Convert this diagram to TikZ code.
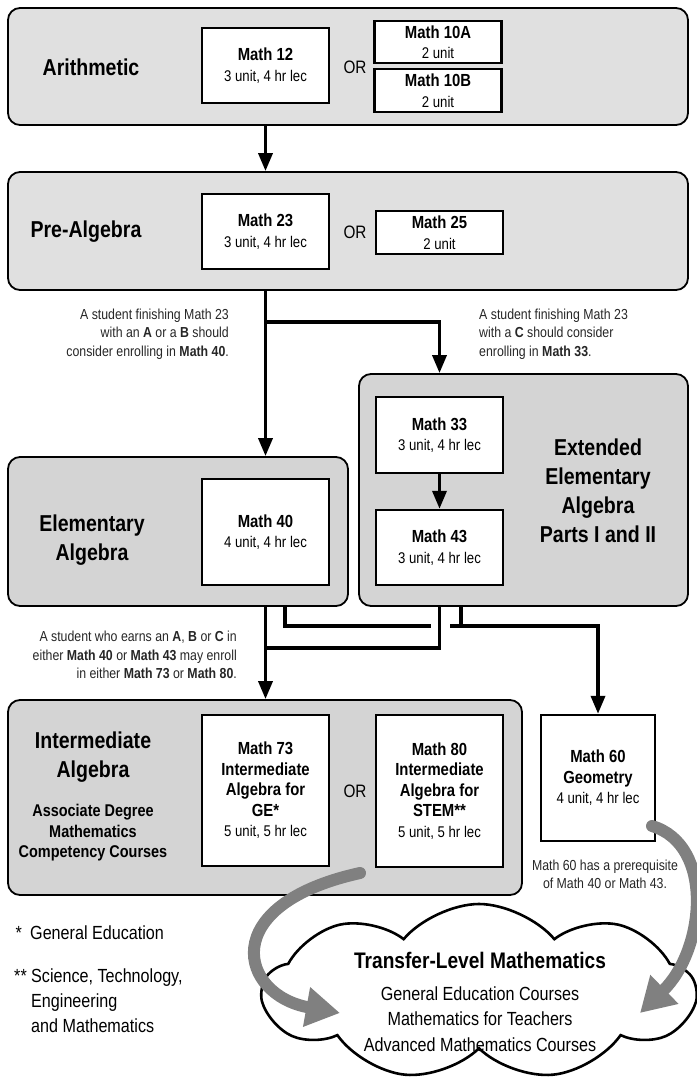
\documentclass[tikz,border=0pt]{standalone}
\usepackage{fontspec}
\setmainfont{Liberation Sans}[FakeStretch=0.85]
\usetikzlibrary{positioning, arrows.meta, shapes.symbols}
\definecolor{paneltop}{gray}{0.88}
\definecolor{panellow}{gray}{0.83}
\definecolor{bigarrow}{gray}{0.5}
\tikzset{
panel/.style={draw, line width=1.8pt, rounded corners=12pt, inner sep=0pt}, % gray band of one level
course/.style={draw, line width=2.4pt, fill=white, inner sep=0pt, align=center, font=\fontsize{15.5}{20.5}\selectfont}, % white course box
level/.style={align=center, inner sep=0pt, font=\bfseries\fontsize{23}{29}\selectfont}, % name of the level
sublevel/.style={align=center, inner sep=0pt, font=\bfseries\fontsize{17}{20.5}\selectfont},
ortext/.style={inner sep=0pt, font=\fontsize{18}{20}\selectfont},
note/.style={inner sep=0pt, text=black!85, font=\fontsize{14.5}{18.3}\selectfont}, % small advice texts
fnote/.style={inner sep=0pt, align=left, font=\fontsize{19}{25}\selectfont},
link/.style={line width=3.5pt},
flow/.style={link, -{Triangle[width=14pt,length=18pt]}}, % black arrow between courses
bigflow/.style={draw=bigarrow, line width=12pt, line cap=round, -{Triangle[width=38pt,length=34pt]}},
}
\newcommand{\ctitle}[1]{{\bfseries\fontsize{17.5}{20.5}\selectfont #1}}

\begin{document}
\begin{tikzpicture}[x=1pt, y=-1pt]
\useasboundingbox (0,0) rectangle (696,1084);

% levels
\node[panel, fill=paneltop, minimum width=680pt, minimum height=117pt] (arith) at (348,66.5) {};
\node[panel, fill=paneltop, minimum width=680pt, minimum height=118pt] (prealg) at (348,231) {};
\node[panel, fill=panellow, minimum width=340pt, minimum height=149pt] (elem) at (178,531.5) {};
\node[panel, fill=panellow, minimum width=329pt, minimum height=232pt] (ext) at (523.5,490) {};
\node[panel, fill=panellow, minimum width=514pt, minimum height=195pt] (inter) at (265,797.5) {};

\node[level] (arithlabel) at (91,67) {Arithmetic};
\node[level] (prealglabel) at (86,232) {Pre-Algebra};
\node[level] (elemlabel) at (92,540) {Elementary\\Algebra};
\node[level] (extlabel) at (598,491) {Extended\\Elementary\\Algebra\\Parts I and II};
\node[level] (interlabel) at (93,757) {Intermediate\\Algebra};
\node[sublevel] (interdesc) at (93,833) {Associate Degree\\Mathematics\\Competency Courses};

% courses
\node[course, minimum width=127pt, minimum height=75pt] (math12) at (265.5,65.5) {\ctitle{Math 12}\\3 unit, 4 hr lec};
\node[ortext] (or1) at (355,67) {OR};
\node[course, minimum width=127pt, minimum height=42pt] (math10a) at (438,42) {\ctitle{Math 10A}\\2 unit};
\node[course, minimum width=127pt, minimum height=43pt] (math10b) at (438,90.5) {\ctitle{Math 10B}\\2 unit};

\node[course, minimum width=127pt, minimum height=75pt] (math23) at (265.5,231.5) {\ctitle{Math 23}\\3 unit, 4 hr lec};
\node[ortext] (or2) at (355,232) {OR};
\node[course, minimum width=127pt, minimum height=43pt] (math25) at (439.5,232.5) {\ctitle{Math 25}\\2 unit};

\node[course, minimum width=127pt, minimum height=106pt] (math40) at (265.5,532) {\ctitle{Math 40}\\4 unit, 4 hr lec};
\node[course, minimum width=127pt, minimum height=76pt] (math33) at (439.5,435) {\ctitle{Math 33}\\3 unit, 4 hr lec};
\node[course, minimum width=127pt, minimum height=75pt] (math43) at (439.5,547.5) {\ctitle{Math 43}\\3 unit, 4 hr lec};

\node[course, minimum width=127pt, minimum height=151pt] (math73) at (265.5,790.5) {\ctitle{Math 73}\\\ctitle{Intermediate}\\\ctitle{Algebra for}\\\ctitle{GE*}\\5 unit, 5 hr lec};
\node[ortext] (or3) at (355,791) {OR};
\node[course, minimum width=127pt, minimum height=152pt] (math80) at (439.5,791) {\ctitle{Math 80}\\\ctitle{Intermediate}\\\ctitle{Algebra for}\\\ctitle{STEM**}\\5 unit, 5 hr lec};
\node[course, minimum width=114pt, minimum height=126pt] (math60) at (598,778) {\ctitle{Math 60}\\\ctitle{Geometry}\\4 unit, 4 hr lec};

% advice
\node[note, align=right, anchor=east] (toforty) at (229,334) {A student finishing Math 23\\with an \textbf{A} or a \textbf{B} should\\consider enrolling in \textbf{Math 40}.};
\node[note, align=left, anchor=west] (tothirtythree) at (479,334) {A student finishing Math 23\\with a \textbf{C} should consider\\enrolling in \textbf{Math 33}.};
\node[note, align=right, anchor=east] (toseventythree) at (237,655) {A student who earns an \textbf{A}, \textbf{B} or \textbf{C} in\\either \textbf{Math 40} or \textbf{Math 43} may enroll\\in either \textbf{Math 73} or \textbf{Math 80}.};
\node[note, align=center] (geonote) at (605,874) {Math 60 has a prerequisite\\of Math 40 or Math 43.};

% connectors
\coordinate (split) at (265.5,322);
\coordinate (fortybend) at (285,626);
\coordinate (gapleft) at (431,626);
\coordinate (gapright) at (450,626);
\coordinate (tee) at (461,626);
\coordinate (join) at (265.5,648);

\draw[flow] (arith.south -| math12) -- (prealg.north -| math12);
\draw[flow] (prealg.south -| math23) -- (elem.north -| math23);
\draw[flow] (split) -| (ext.north -| math33);
\draw[flow] (math33) -- (math43);
\draw[flow] (elem.south -| math40) -- (inter.north -| math40);
\draw[link] (ext.south -| math43) |- (join);
\draw[link] (elem.south -| fortybend) -- (fortybend) -- (gapleft);
\draw[link] (ext.south -| tee) -- (tee);
\draw[flow] (gapright) -| (math60.north);

% transfer level
\node[cloud, cloud puffs=9, cloud puff arc=100, aspect=2.4, draw, line width=2.6pt, fill=white, minimum width=432pt, minimum height=176pt, inner sep=0pt] (transfer) at (479,992) {};
\node[inner sep=0pt, font=\bfseries\fontsize{22.5}{26}\selectfont] (transfertitle) at (480,960) {Transfer-Level Mathematics};
\node[inner sep=0pt, align=center, font=\fontsize{19}{25.5}\selectfont] (transferlist) at (480,1019) {General Education Courses\\Mathematics for Teachers\\Advanced Mathematics Courses};

\coordinate (gefrom) at (360,873);
\coordinate (gein) at (340,1013);
\coordinate (geofrom) at (652,826);
\coordinate (geoin) at (640,1013);
\draw[bigflow] (gefrom) .. controls (215,905) and (240,995) .. (gein);
\draw[bigflow] (geofrom) .. controls (715,845) and (705,950) .. (geoin);

% footnotes
\node[fnote, anchor=west] (gefoot) at (30,933) {General Education};
\node[fnote, anchor=east, xshift=-8pt] (gestar) at (gefoot.west) {*};
\node[fnote, anchor=west] (stemfoot) at (31,1001) {Science, Technology,\\Engineering\\and Mathematics};
\node[fnote, anchor=north east, xshift=-4pt] (stemstars) at (stemfoot.north west) {**};
\end{tikzpicture}
\end{document}
